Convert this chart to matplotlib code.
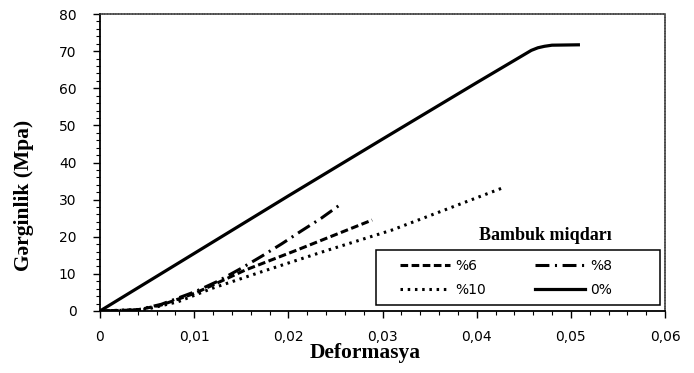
import numpy as np
import matplotlib
matplotlib.use("Agg")
import matplotlib.pyplot as plt
from matplotlib.patches import Rectangle
from matplotlib.ticker import MultipleLocator, FuncFormatter

plt.rcParams['lines.scale_dashes'] = False

# okunan degerler (Deformasya, Gerginlik)
x_6 = [0, 0.004, 0.0065, 0.0101, 0.0154, 0.0207, 0.0289]
y_6 = [0, 0.3, 1.6, 4.8, 11.0, 16.2, 24.5]

x_8 = [0, 0.004, 0.0065, 0.0101, 0.0125, 0.015, 0.0172, 0.0193, 0.0214, 0.0235, 0.0257]
y_8 = [0, 0.3, 1.8, 5.2, 8.0, 11.5, 14.8, 18.1, 21.6, 25.0, 29.0]

x_10 = [0, 0.005, 0.0083, 0.0119, 0.0172, 0.0242, 0.031, 0.043]
y_10 = [0, 0.5, 2.5, 6.1, 10.6, 16.4, 21.8, 33.4]

x_0 = [0, 0.01, 0.02, 0.03, 0.04, 0.045, 0.0458, 0.0465, 0.0472, 0.048, 0.0508]
y_0 = [0, 15.5, 31.0, 46.3, 61.5, 69.0, 70.2, 70.9, 71.3, 71.6, 71.7]

fig = plt.figure(figsize=(6.94, 3.73), dpi=100)
ax = fig.add_axes([100/694, 1-311/373, 565/694, 297/373])

l6, = ax.plot(x_6, y_6, color='black', lw=2.2, dashes=(5.5, 2.5), label='%6')
l8, = ax.plot(x_8, y_8, color='black', lw=2.2, dashes=(10, 4, 1.5, 4), label='%8')
l10, = ax.plot(x_10, y_10, color='black', lw=2.2, dashes=(1.8, 3.4), label='%10')
l0, = ax.plot(x_0, y_0, color='black', lw=2.3, label='0%')

ax.set_xlim(0, 0.06)
ax.set_ylim(0, 80)
ax.xaxis.set_major_locator(MultipleLocator(0.01))
ax.xaxis.set_minor_locator(MultipleLocator(0.002))
ax.yaxis.set_major_locator(MultipleLocator(10))
ax.yaxis.set_minor_locator(MultipleLocator(2))
ax.xaxis.set_major_formatter(FuncFormatter(lambda v, p: '0' if v == 0 else f"{v:.2f}".replace('.', ',')))
ax.yaxis.set_major_formatter(FuncFormatter(lambda v, p: f"{v:.0f}"))

ax.tick_params(axis='both', which='major', direction='out', length=5, width=1, labelsize=10, colors='black')
ax.tick_params(axis='both', which='minor', direction='out', length=3, width=0.8)
ax.tick_params(axis='x', which='major', pad=9)
ax.tick_params(axis='y', which='major', pad=12)

for s in ['left', 'bottom']:
    ax.spines[s].set_linewidth(1.3)
    ax.spines[s].set_color('black')
for s in ['top', 'right']:
    ax.spines[s].set_linewidth(1.1)
    ax.spines[s].set_linestyle((0, (1, 1)))
    ax.spines[s].set_color('#333333')

serif = ['Liberation Serif', 'DejaVu Serif']
fig.text(365/694, 1-353/373, 'Deformasya', family=serif, fontweight='bold',
         fontsize=15.5, ha='center', va='center')
fig.text(24/694, 1-195/373, 'Gərginlik (Mpa)', family=serif, fontweight='bold',
         fontsize=15.5, ha='center', va='center', rotation=90)

# legend kutusu ve basligi
ax.add_patch(Rectangle(((376-100)/565, (311-305)/297), 284/565, 55/297,
                       transform=ax.transAxes, fill=False, ec='black', lw=1.1, zorder=5))
ax.text((545-100)/565, (311-236)/297, 'Bambuk miqdarı', transform=ax.transAxes,
        family=serif, fontweight='bold', fontsize=13, ha='center', va='center')

ax.legend([l6, l10, l8, l0], ['%6', '%10', '%8', '0%'], ncol=2, frameon=False,
          loc='upper left', bbox_to_anchor=((400-100)/565, (311-259)/297),
          borderpad=0, borderaxespad=0, handlelength=3.6, handletextpad=0.4,
          columnspacing=3.5, labelspacing=0.7, fontsize=10)

fig.savefig('out.png', dpi=100)
